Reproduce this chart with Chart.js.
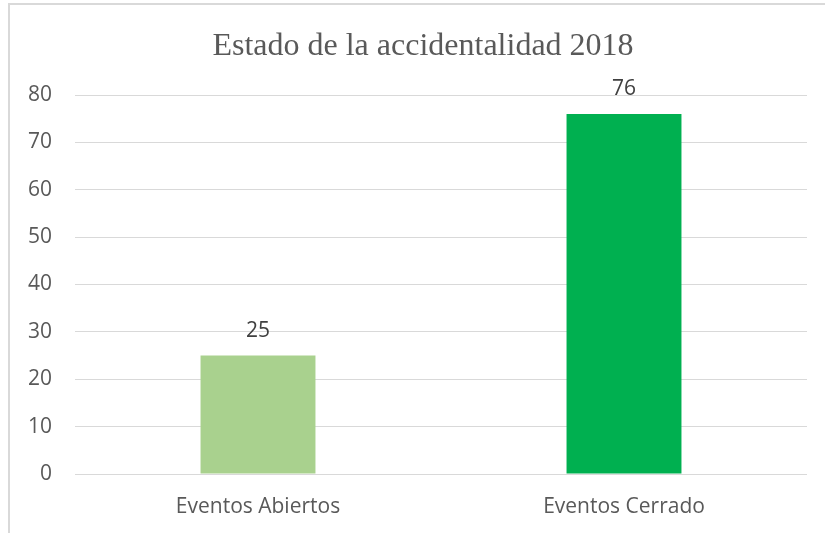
<!DOCTYPE html>
<html lang="es">
<head>
  <meta charset="UTF-8">
  <title>Estado de la accidentalidad 2018</title>
  <script src="https://cdn.jsdelivr.net/npm/chart.js"></script>
  <style>
    html, body {
      margin: 0;
      padding: 0;
      background: #fff;
      overflow: hidden;
    }
    .marco {
      position: absolute;
      left: 8px;
      top: 3px;
      width: 840px;
      height: 560px;
      border: 2px solid #d9d9d9;
    }
    canvas {
      position: absolute;
      left: 0;
      top: 0;
    }
    .titulo {
      position: absolute;
      left: 23px;
      width: 800px;
      top: 28px;
      text-align: center;
      font-family: "Liberation Serif", "Times New Roman", serif;
      font-size: 32px;
      line-height: 32px;
      color: #595959;
      white-space: nowrap;
    }
  </style>
</head>
<body>
  <div class="marco"></div>
  <canvas id="grafico" width="825" height="533"></canvas>
  <div class="titulo">Estado de la accidentalidad 2018</div>

  <script>
    const categorias = ['Eventos Abiertos', 'Eventos Cerrado'];
    const valores = [25, 76];
    const colores = ['#A9D18E', '#00B050'];
    const ticksY = [0, 10, 20, 30, 40, 50, 60, 70, 80];

    // etiquetas de valor encima de cada barra
    const etiquetasValor = {
      id: 'etiquetasValor',
      afterDatasetsDraw(chart) {
        const ctx = chart.ctx;
        const meta = chart.getDatasetMeta(0);
        ctx.save();
        ctx.font = '21px "Open Sans", sans-serif';
        ctx.fillStyle = '#404040';
        ctx.textAlign = 'center';
        ctx.textBaseline = 'middle';
        meta.data.forEach((barra, i) => {
          ctx.fillText(valores[i], barra.x, barra.y - 25);
        });
        ctx.restore();
      }
    };

    const ctx = document.getElementById('grafico').getContext('2d');
    const grafico = new Chart(ctx, {
      type: 'bar',
      data: {
        labels: categorias,
        datasets: [{
          data: valores,
          backgroundColor: colores,
          categoryPercentage: 1,
          barPercentage: 0.314
        }]
      },
      options: {
        responsive: false,
        animation: false,
        layout: {
          padding: { left: 0, right: 18, top: 95, bottom: 0 }
        },
        plugins: {
          legend: { display: false },
          tooltip: { enabled: false },
          title: { display: false }
        },
        scales: {
          x: {
            afterFit(escala) { escala.height = 59; },
            grid: { display: false, drawTicks: false },
            border: { display: false },
            ticks: {
              color: '#595959',
              font: { family: '"Open Sans", sans-serif', size: 21 },
              padding: 20
            }
          },
          y: {
            min: 0,
            max: 80,
            afterFit(escala) { escala.width = 75; },
            afterBuildTicks(escala) { escala.ticks = ticksY.map(v => ({ value: v })); },
            grid: { color: '#d9d9d9', lineWidth: 1, drawTicks: false },
            border: { display: false },
            ticks: {
              color: '#595959',
              font: { family: '"Open Sans", sans-serif', size: 21 },
              padding: 23
            }
          }
        }
      },
      plugins: [etiquetasValor]
    });
  </script>
</body>
</html>
